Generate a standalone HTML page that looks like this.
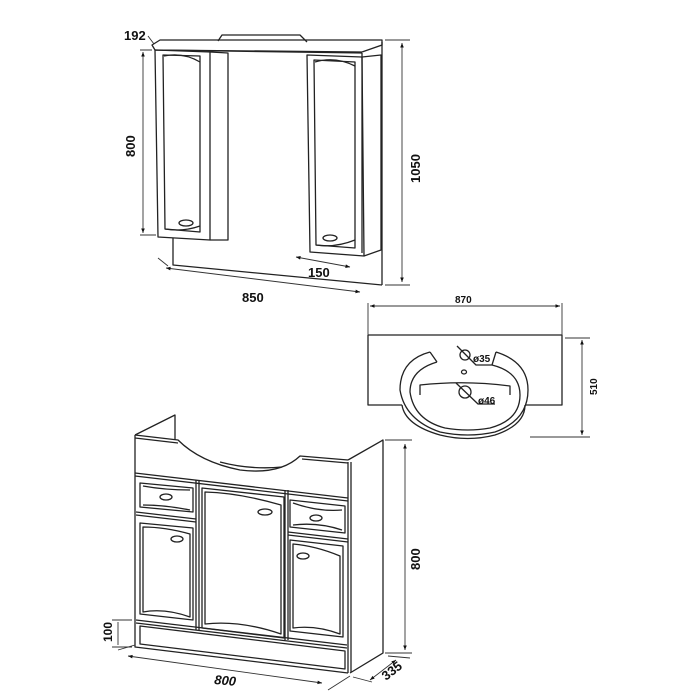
<!DOCTYPE html>
<html><head><meta charset="utf-8"><style>
html,body{margin:0;padding:0;background:#fff}
svg{display:block}
text{font-family:"Liberation Sans",Arial,sans-serif;font-weight:bold;fill:#111}
</style></head><body>
<svg width="700" height="700" viewBox="0 0 700 700" xmlns="http://www.w3.org/2000/svg">
<defs>
<marker id="a" viewBox="0 0 10 10" refX="10" refY="5" markerWidth="7" markerHeight="5" orient="auto-start-reverse"><path d="M0,1 L10,5 L0,9 z" fill="#111"/></marker>
</defs>
<g fill="none" stroke="#222" stroke-width="1.3" stroke-linejoin="round">
<!-- TOP MIRROR CABINET -->
<path d="M152,45 L160,40 L382,40 L382,45 L362,52 L155,50 Z"/>
<path d="M155,50 L362,53"/>
<path d="M218,41 L222,35 L300,35 L307,42"/>
<path d="M382,42 L382,285"/>
<path d="M362,53 L362,253"/>
<!-- left cabinet -->
<path d="M155,50 L210,52 L210,240 L158,237 Z"/>
<path d="M210,52 L228,53 L228,240 L210,240"/>
<path d="M163,55 L200,56 L200,232 L165,229 Z"/>
<path d="M164,56 Q183,52 200,62 M165,229 Q183,232 200,226"/>
<ellipse cx="186" cy="223" rx="7" ry="3"/>
<!-- right cabinet -->
<path d="M307,55 L362,57 L364,256 L310,252 Z"/>
<path d="M362,57 L381,55 L381,250 L364,256"/>
<path d="M314,60 L355,62 L355,248 L316,245 Z"/>
<path d="M315,62 Q335,56 355,66 M316,245 Q335,248 355,240"/>
<ellipse cx="330" cy="238" rx="7" ry="3"/>
<!-- mirror bottom -->
<path d="M173,238 L173,265 L382,285"/>
<!-- bottom cabinet -->
<path d="M135,435 L178,440 Q200,462 240,470 Q280,475 300,456 L348,460"/>
<path d="M135,438 L178,443 M302,459 L348,463"/>
<path d="M135,435 L175,415 L175,440"/>
<path d="M220,462 Q250,470 282,467"/>
<path d="M348,460 L383,440 L383,653 L350,673"/>
<path d="M348,462 L348,673 M351,462 L351,672"/>
<path d="M135,435 L135,647 L348,673"/>
<path d="M135,473 L348,498 M135,476 L348,501"/>
<path d="M136,620 L347,645 M136,623 L347,648"/>
<path d="M140,626 L345,651 L345,669 L140,644 Z"/>
<!-- verticals between doors -->
<path d="M196,480 L196,630 M199,480 L199,630"/>
<path d="M285,490 L285,640 M288,490 L288,640"/>
<!-- left drawer -->
<path d="M140,483 L193,488 L193,512 L140,507 Z"/>
<path d="M143,486 Q165,490 190,490 M143,505 Q165,505 190,510"/>
<ellipse cx="166" cy="497" rx="6" ry="3"/>
<path d="M136,512 L196,519 M136,515 L196,522"/>
<!-- left door -->
<path d="M140,523 L193,528 L193,620 L140,614 Z"/>
<path d="M143,527 Q165,527 190,534 L190,617 Q165,608 143,612 Z"/>
<ellipse cx="177" cy="539" rx="6" ry="3"/>
<!-- middle door -->
<path d="M202,488 L284,497 L284,638 L202,628 Z"/>
<path d="M205,492 Q240,493 281,505 L281,634 Q240,620 205,624 Z"/>
<ellipse cx="265" cy="512" rx="7" ry="3"/>
<!-- right drawer -->
<path d="M290,500 L345,506 L345,533 L290,527 Z"/>
<path d="M293,503 Q318,512 342,510 M293,525 Q318,522 342,530"/>
<ellipse cx="316" cy="518" rx="6" ry="3"/>
<path d="M288,532 L348,539 M288,535 L348,542"/>
<!-- right door -->
<path d="M290,540 L343,546 L343,637 L290,631 Z"/>
<path d="M293,544 Q316,546 340,556 L340,634 Q316,625 293,628 Z"/>
<ellipse cx="303" cy="556" rx="6" ry="3"/>
<!-- SINK -->
<path d="M368,335 L562,335 L562,405 L525,405 M368,335 L368,405 L402,405"/>
<path d="M402,405 Q405,425 440,435 Q468,442 495,435 Q525,425 525,405"/>
<path d="M430,352 Q400,360 400,390 Q405,420 440,432 Q468,438 495,432 Q528,420 528,390 Q528,362 496,352"/>
<path d="M437,362 Q410,370 410,392 Q414,420 445,428 Q468,432 490,428 Q520,420 520,395 Q520,372 492,365"/>
<path d="M430,352 L437,362 M496,352 L492,365"/>
<path d="M420,395 L420,385 Q465,380 510,386 L510,395"/>
<circle cx="465" cy="355" r="5"/>
<circle cx="465" cy="392" r="6"/>
<ellipse cx="464" cy="372" rx="2.5" ry="2"/>
<path d="M457,346 L476,365 L492,365"/>
<path d="M456,383 L478,404 L495,404"/>
</g>
<!-- dimension lines -->
<g fill="none" stroke="#333" stroke-width="0.9">
<path d="M368,303 L368,335 M562,303 L562,335"/>
<path d="M370,306 L560,306" marker-start="url(#a)" marker-end="url(#a)"/>
<path d="M565,338 L590,338 M530,437 L590,437"/>
<path d="M582,340 L582,435" marker-start="url(#a)" marker-end="url(#a)"/>
<path d="M140,50 L152,50 M140,235 L156,235"/>
<path d="M143,52 L143,233" marker-start="url(#a)" marker-end="url(#a)"/>
<path d="M385,40 L410,40 M385,285 L410,285"/>
<path d="M402,43 L402,282" marker-start="url(#a)" marker-end="url(#a)"/>
<path d="M148,36 L154,44"/>
<path d="M158,258 L168,266"/>
<path d="M166,268 L360,292" marker-start="url(#a)" marker-end="url(#a)"/>
<path d="M296,257 L350,267" marker-start="url(#a)" marker-end="url(#a)"/>
<path d="M385,440 L412,440 M385,653 L412,653"/>
<path d="M405,444 L405,650" marker-start="url(#a)" marker-end="url(#a)"/>
<path d="M112,620 L132,620 M112,647 L132,647"/>
<path d="M118,622 L118,645"/>
<path d="M118,650 L135,645 M328,690 L350,676"/>
<path d="M128,656 L322,683" marker-start="url(#a)" marker-end="url(#a)"/>
<path d="M353,677 L372,682 M388,656 L410,658"/>
<path d="M370,680 L396,660" marker-start="url(#a)" marker-end="url(#a)"/>
</g>
<text x="124" y="40" font-size="13">192</text>
<text transform="translate(135,157) rotate(-90)" font-size="13">800</text>
<text transform="translate(420,183) rotate(-90)" font-size="13">1050</text>
<text x="242" y="302" font-size="13">850</text>
<text x="308" y="277" font-size="13">150</text>
<text x="455" y="303" font-size="10">870</text>
<text transform="translate(597,395) rotate(-90)" font-size="10">510</text>
<text x="473" y="362" font-size="10">ø35</text>
<text x="478" y="404" font-size="10">ø46</text>
<text transform="translate(112,642) rotate(-90)" font-size="12">100</text>
<text transform="translate(420,570) rotate(-90)" font-size="13">800</text>
<text transform="translate(214,684) rotate(5)" font-size="13" font-style="italic">800</text>
<text transform="translate(386,681) rotate(-38)" font-size="13">335</text>
</svg>
</body></html>
